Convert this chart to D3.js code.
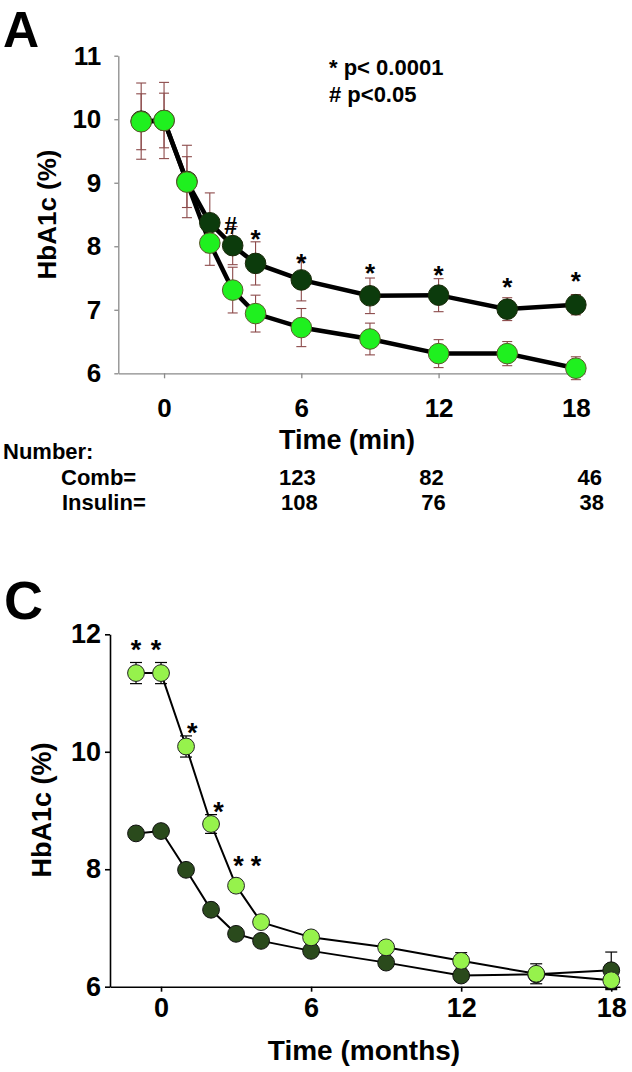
<!DOCTYPE html>
<html>
<head>
<meta charset="utf-8">
<script src="https://cdn.jsdelivr.net/npm/d3@7"></script>
<style>
  html, body { margin: 0; padding: 0; background: #fff; }
  svg { display: block; }
</style>
</head>
<body>
<div id="chart"></div>
<script>
// ---------------- DATA ----------------
// Panel A
const timeA = [-1, 0, 1, 2, 3, 4, 6, 9, 12, 15, 18];
const combA = [9.97, 9.98, 9.02, 8.37, 8.01, 7.73, 7.47, 7.22, 7.23, 7.01, 7.08];
const combErrA = [0.60, 0.60, 0.57, 0.47, 0.30, 0.34, 0.33, 0.28, 0.26, 0.18, 0.16];
const insulinA = [9.96, 9.98, 9.01, 8.05, 7.31, 6.94, 6.72, 6.54, 6.31, 6.31, 6.08];
const insulinErrA = [0.44, 0.43, 0.40, 0.35, 0.36, 0.29, 0.30, 0.25, 0.22, 0.19, 0.18];
const yTicksA = [6, 7, 8, 9, 10, 11];
const xTicksA = [0, 6, 12, 18];
const sigTimesA = [3, 4, 6, 9, 12, 15, 18];
const sigSymbolsA = ["#", "*", "*", "*", "*", "*", "*"];
const sigLevelsA = [8.32, 8.21, 7.84, 7.68, 7.64, 7.46, 7.55];
const legendLines = ["* p< 0.0001", "# p<0.05"];
const numberTimes = [6, 12, 18];
const combN = [123, 82, 46];
const insulinN = [108, 76, 38];

// Panel C
const timeC = [-1, 0, 1, 2, 3, 4, 6, 9, 12, 15, 18];
const combC = [8.61, 8.65, 7.99, 7.31, 6.90, 6.78, 6.61, 6.41, 6.19, 6.21, 6.28];
const combErrC = [0.08, 0.08, 0.08, 0.08, 0.07, 0.07, 0.07, 0.07, 0.07, 0.10, 0.31];
const insulinC = [11.34, 11.34, 10.09, 8.77, 7.72, 7.10, 6.84, 6.67, 6.44, 6.22, 6.11];
const insulinErrC = [0.18, 0.18, 0.18, 0.16, 0.10, 0.08, 0.08, 0.08, 0.14, 0.17, 0.16];
const yTicksC = [6, 8, 10, 12];
const xTicksC = [0, 6, 12, 18];
const sigTimesC = [-1, -0.2, 1.25, 2.3, 3.1, 3.8];
const sigLevelsC = [11.85, 11.85, 10.44, 9.09, 8.16, 8.16];

// ---------------- DRAW ----------------
const W = 632, H = 1072;
const FONT = "'Liberation Sans', Arial, Helvetica, sans-serif";
const svg = d3.select("#chart").append("svg")
  .attr("width", W).attr("height", H)
  .attr("font-family", FONT).attr("font-weight", "bold");

function zip(t, v, e) { return t.map((d, i) => ({ t: d, v: v[i], e: e ? e[i] : 0 })); }

function drawErr(g, data, x, y, color, capHalf, width) {
  const eg = g.append("g").attr("stroke", color).attr("stroke-width", width).attr("fill", "none");
  data.forEach(d => {
    const cx = x(d.t);
    eg.append("line").attr("x1", cx).attr("x2", cx).attr("y1", y(d.v - d.e)).attr("y2", y(d.v + d.e));
    [d.v - d.e, d.v + d.e].forEach(val => {
      eg.append("line").attr("x1", cx - capHalf).attr("x2", cx + capHalf)
        .attr("y1", y(val)).attr("y2", y(val));
    });
  });
}

function styleAxis(g, color, width, fontSize) {
  g.select(".domain").attr("stroke", color).attr("stroke-width", width);
  g.selectAll(".tick line").attr("stroke", color).attr("stroke-width", width);
  g.selectAll(".tick text").attr("fill", "#000").attr("font-size", fontSize)
    .attr("font-family", FONT).attr("font-weight", "bold");
}

const fmt = d3.format("d");

// ===== Panel A =====
const gA = svg.append("g");
const xA = d3.scaleLinear().domain([-2, 18.4]).range([118.3, 585]);
const yA = d3.scaleLinear().domain([6, 11]).range([373.3, 55.7]);

gA.append("text").text("A").attr("x", 3).attr("y", 47).attr("font-size", 50);

const axYA = gA.append("g").attr("transform", `translate(${xA.range()[0]},0)`)
  .call(d3.axisLeft(yA).tickValues(yTicksA).tickFormat(fmt).tickSize(4).tickPadding(13).tickSizeOuter(0));
styleAxis(axYA, "#8a8a8a", 1.3, 26);
const axXA = gA.append("g").attr("transform", `translate(0,${yA.range()[0]})`)
  .call(d3.axisBottom(xA).tickValues(xTicksA).tickFormat(fmt).tickSize(5).tickPadding(20).tickSizeOuter(0));
styleAxis(axXA, "#8a8a8a", 1.3, 26);

gA.append("text").text("HbA1c (%)").attr("font-size", 26).attr("text-anchor", "middle")
  .attr("transform", `translate(56,${(yA(6) + yA(11)) / 2}) rotate(-90)`);
gA.append("text").text("Time (min)").attr("font-size", 27).attr("text-anchor", "middle")
  .attr("x", 347).attr("y", 449);

const dCombA = zip(timeA, combA, combErrA);
const dInsA = zip(timeA, insulinA, insulinErrA);
drawErr(gA, dCombA, xA, yA, "#8c4a4a", 5, 1.1);
drawErr(gA, dInsA, xA, yA, "#8c4a4a", 5, 1.1);

const lineA = d3.line().x(d => xA(d.t)).y(d => yA(d.v));
gA.append("path").datum(dCombA).attr("d", lineA).attr("fill", "none").attr("stroke", "#000").attr("stroke-width", 4.5);
gA.append("path").datum(dInsA).attr("d", lineA).attr("fill", "none").attr("stroke", "#000").attr("stroke-width", 4.5);

gA.selectAll("circle.comb").data(dCombA).join("circle").attr("class", "comb")
  .attr("cx", d => xA(d.t)).attr("cy", d => yA(d.v)).attr("r", 10.3)
  .attr("fill", "#0c3b0c").attr("stroke", "#1a2a0a").attr("stroke-width", 1);
gA.selectAll("circle.ins").data(dInsA).join("circle").attr("class", "ins")
  .attr("cx", d => xA(d.t)).attr("cy", d => yA(d.v)).attr("r", 10.3)
  .attr("fill", "#1ff01f").attr("stroke", "#5a5a2a").attr("stroke-width", 1);

sigTimesA.forEach((t, i) => {
  const s = sigSymbolsA[i];
  const fs = s === "#" ? 23 : 26;
  const off = s === "#" ? 0.36 : 0.58;
  gA.append("text").text(s).attr("font-size", fs).attr("text-anchor", "middle")
    .attr("x", xA(t) - (s === "#" ? 2 : 0)).attr("y", yA(sigLevelsA[i]) + off * fs);
});

legendLines.forEach((l, i) => {
  gA.append("text").text(l).attr("font-size", 22).attr("x", 329).attr("y", 75 + i * 27);
});

// Number table
gA.append("text").text("Number:").attr("font-size", 22).attr("x", 3).attr("y", 459);
gA.append("text").text("Comb=").attr("font-size", 22).attr("x", 61).attr("y", 485);
gA.append("text").text("Insulin=").attr("font-size", 22).attr("x", 62).attr("y", 510);
const colShift = [-4, -7, 14];
numberTimes.forEach((t, i) => {
  gA.append("text").text(combN[i]).attr("font-size", 22).attr("text-anchor", "middle")
    .attr("x", xA(t) + colShift[i]).attr("y", 485);
  gA.append("text").text(insulinN[i]).attr("font-size", 22).attr("text-anchor", "middle")
    .attr("x", xA(t) + colShift[i] + 2).attr("y", 510);
});

// ===== Panel C =====
const gC = svg.append("g");
const xC = d3.scaleLinear().domain([-2.04, 18.35]).range([110, 620]);
const yC = d3.scaleLinear().domain([6, 12]).range([986.7, 634.3]);

gC.append("text").text("C").attr("x", 4).attr("y", 619).attr("font-size", 54);

const axYC = gC.append("g").attr("transform", `translate(${xC.range()[0]},0)`)
  .call(d3.axisLeft(yC).tickValues(yTicksC).tickFormat(fmt).tickSize(5).tickPadding(4).tickSizeOuter(0));
styleAxis(axYC, "#000", 1.6, 27);
const axXC = gC.append("g").attr("transform", `translate(0,${yC.range()[0]})`)
  .call(d3.axisBottom(xC).tickValues(xTicksC).tickFormat(fmt).tickSize(5).tickPadding(6).tickSizeOuter(0));
styleAxis(axXC, "#000", 1.6, 27);

gC.append("text").text("HbA1c (%)").attr("font-size", 27).attr("text-anchor", "middle")
  .attr("transform", `translate(51,810) rotate(-90)`);
gC.append("text").text("Time (months)").attr("font-size", 28).attr("text-anchor", "middle")
  .attr("x", 364).attr("y", 1060);

const dCombC = zip(timeC, combC, combErrC);
const dInsC = zip(timeC, insulinC, insulinErrC);
drawErr(gC, dCombC, xC, yC, "#000", 6, 1.2);
drawErr(gC, dInsC, xC, yC, "#000", 6, 1.2);

const lineC = d3.line().x(d => xC(d.t)).y(d => yC(d.v));
gC.append("path").datum(dCombC).attr("d", lineC).attr("fill", "none").attr("stroke", "#000").attr("stroke-width", 2);
gC.append("path").datum(dInsC).attr("d", lineC).attr("fill", "none").attr("stroke", "#000").attr("stroke-width", 2);

gC.selectAll("circle.comb").data(dCombC).join("circle").attr("class", "comb")
  .attr("cx", d => xC(d.t)).attr("cy", d => yC(d.v)).attr("r", 8.4)
  .attr("fill", "#2a4a1c").attr("stroke", "#111").attr("stroke-width", 1);
gC.selectAll("circle.ins").data(dInsC).join("circle").attr("class", "ins")
  .attr("cx", d => xC(d.t)).attr("cy", d => yC(d.v)).attr("r", 8.4)
  .attr("fill", "#96f24c").attr("stroke", "#222").attr("stroke-width", 1);

sigTimesC.forEach((t, i) => {
  const fs = 27;
  gC.append("text").text("*").attr("font-size", fs).attr("text-anchor", "middle")
    .attr("x", xC(t)).attr("y", yC(sigLevelsC[i]) + 0.58 * fs);
});
</script>
</body>
</html>
